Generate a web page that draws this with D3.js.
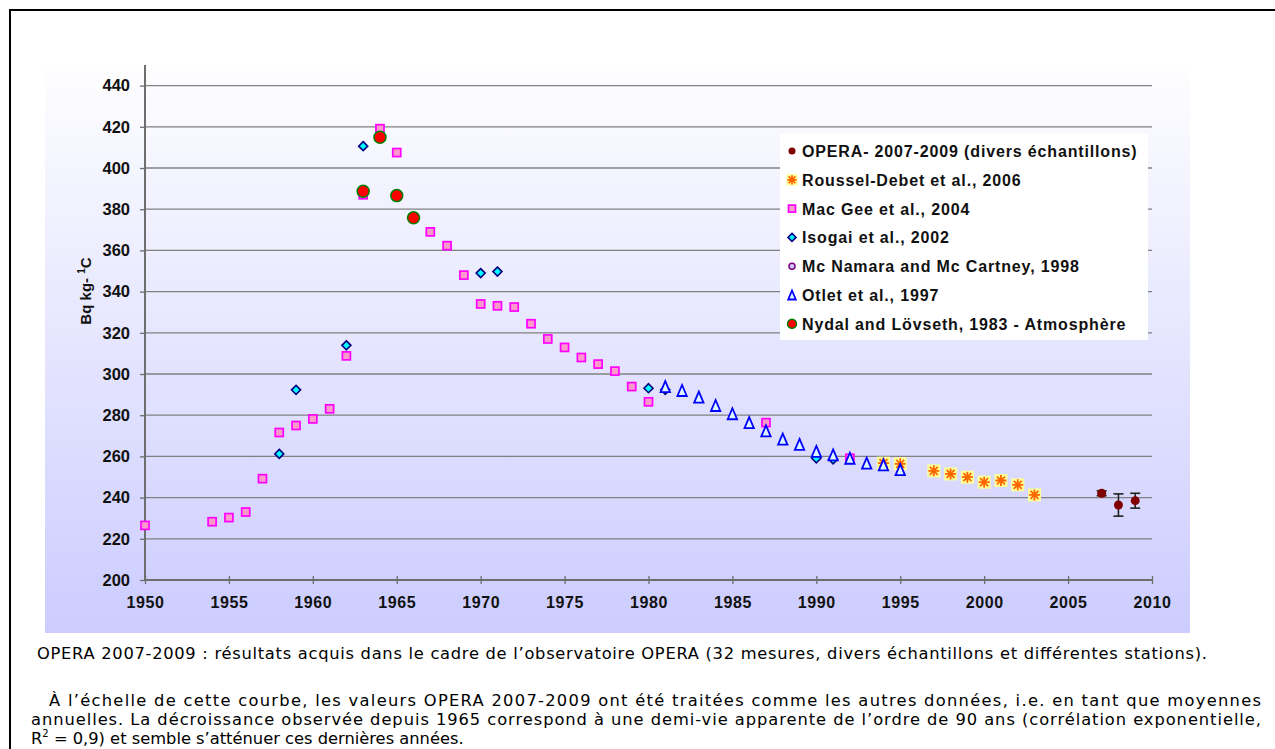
<!DOCTYPE html>
<html>
<head>
<meta charset="utf-8">
<script src="https://cdn.jsdelivr.net/npm/d3@7"></script>
<style>
html,body{margin:0;padding:0;background:#fff;overflow:hidden;}
svg{display:block;}
</style>
</head>
<body>
<svg id="chart" width="1275" height="749"></svg>
<script>
// ---------- DATA ----------
const xTicks = [1950,1955,1960,1965,1970,1975,1980,1985,1990,1995,2000,2005,2010];
const yTicks = [200,220,240,260,280,300,320,340,360,380,400,420,440];

const operaYears = [2007,2008,2009];
const operaVals  = [242.1,236.4,238.5];
const operaErr   = [1.2,5.4,3.6];

const rousselYears = [1994,1995,1997,1998,1999,2000,2001,2002,2003];
const rousselVals  = [256.7,256.4,253.0,251.5,249.9,247.5,248.3,246.2,241.3];

const macGeeYears = [1950,1954,1955,1956,1957,1958,1959,1960,1961,1962,1963,1964,1965,1967,1968,1969,1970,1971,1972,1973,1974,1975,1976,1977,1978,1979,1980,1987,1992];
const macGeeVals  = [226.5,228.3,230.3,233.0,249.2,271.6,275.0,278.2,283.1,308.8,387.0,419.1,407.5,369.0,362.3,348.0,334.0,333.1,332.5,324.4,317.0,312.9,308.0,304.8,301.4,293.9,286.5,276.4,259.1];

const isogaiYears = [1958,1959,1962,1963,1970,1971,1980,1981,1990,1991];
const isogaiVals  = [261.2,292.3,313.9,410.6,349.0,349.7,293.1,292.3,259.1,258.6];

const mcNamaraYears = [];
const mcNamaraVals  = [];

const otletYears = [1981,1982,1983,1984,1985,1986,1987,1988,1989,1990,1991,1992,1993,1994,1995];
const otletVals  = [293.9,292.0,288.8,284.7,280.7,276.4,272.4,268.4,265.8,262.4,260.7,259.1,256.7,255.9,253.6];

const nydalYears = [1963,1964,1965,1966];
const nydalVals  = [388.7,414.9,386.6,375.8];

const legendLabels = [
  "OPERA- 2007-2009 (divers échantillons)",
  "Roussel-Debet et al., 2006",
  "Mac Gee et al., 2004",
  "Isogai et al., 2002",
  "Mc Namara and Mc Cartney, 1998",
  "Otlet et al., 1997",
  "Nydal and Lövseth, 1983 - Atmosphère"
];

const captionLine = "OPERA 2007-2009 : résultats acquis dans le cadre de l’observatoire OPERA (32 mesures, divers échantillons et différentes stations).";
const paraLines = [
  "À l’échelle de cette courbe, les valeurs OPERA 2007-2009 ont été traitées comme les autres données, i.e. en tant que moyennes",
  "annuelles. La décroissance observée depuis 1965 correspond à une demi-vie apparente de l’ordre de 90 ans (corrélation exponentielle,"
];
const lastLine = ["R", "2", " = 0,9) et semble s’atténuer ces dernières années."];

// ---------- LAYOUT ----------
const svg = d3.select("#chart");
const X0 = 145, X1 = 1152, Y0 = 580, Y1 = 65;
const x = d3.scaleLinear().domain([1950,2010]).range([X0,X1]);
const y = d3.scaleLinear().domain([200,450]).range([Y0,Y1]);
const AR = "Liberation Sans, Arial, sans-serif";

// outer frame
svg.append("rect").attr("x",10).attr("y",10).attr("width",1300).attr("height",800)
  .attr("fill","none").attr("stroke","#000").attr("stroke-width",2);

// plot background gradient
const defs = svg.append("defs");
const grad = defs.append("linearGradient").attr("id","bg").attr("x1",0).attr("y1",0).attr("x2",0).attr("y2",1);
grad.append("stop").attr("offset","0%").attr("stop-color","#fefeff");
grad.append("stop").attr("offset","100%").attr("stop-color","#ccccff");
svg.append("rect").attr("x",45).attr("y",65).attr("width",1145).attr("height",568).attr("fill","url(#bg)");

// gridlines
svg.append("g").selectAll("line").data(yTicks.filter(d=>d>200)).join("line")
  .attr("x1",X0).attr("x2",X1).attr("y1",d=>y(d)).attr("y2",d=>y(d))
  .attr("stroke","#808080").attr("stroke-width",1.3);

// y axis
const yAxis = svg.append("g").attr("transform",`translate(${X0},0)`)
  .call(d3.axisLeft(y).tickValues(yTicks).tickSize(5).tickPadding(6).tickFormat(d3.format("d")));
yAxis.select(".domain").attr("stroke","#6e6e6e").attr("stroke-width",2).attr("d",`M0,${Y1}V${Y0}`);
yAxis.selectAll(".tick line").attr("stroke","#6e6e6e").attr("stroke-width",1.3);
yAxis.selectAll(".tick text").attr("font-family",AR)
  .attr("font-weight","bold").attr("font-size",16.5).attr("fill","#111").attr("x",-15);

// x axis
const xAxis = svg.append("g").attr("transform",`translate(0,${Y0})`)
  .call(d3.axisBottom(x).tickValues(xTicks).tickSize(4).tickPadding(13).tickFormat(d3.format("d")));
xAxis.select(".domain").attr("stroke","#6e6e6e").attr("stroke-width",2).attr("d",`M${X0},0H${X1}`);
xAxis.selectAll(".tick line").attr("stroke","#6e6e6e").attr("stroke-width",1.3).attr("y1",-4).attr("y2",4);
xAxis.selectAll(".tick text").attr("font-family",AR)
  .attr("font-weight","bold").attr("font-size",16).attr("letter-spacing",0.6).attr("fill","#111");

// y title
const yt = svg.append("text").attr("transform","translate(91,291) rotate(-90)")
  .attr("text-anchor","middle").attr("font-family",AR)
  .attr("font-weight","bold").attr("font-size",15).attr("fill","#111");
yt.append("tspan").text("Bq kg- ");
yt.append("tspan").attr("font-size",10).attr("dy",-6).text("1");
yt.append("tspan").attr("dy",6).text("C");

// ---------- MARKERS ----------
function zip(a,b){ return a.map((v,i)=>({yr:v,val:b[i]})); }

const drawers = {
  roussel: (g,s)=>{
    const h=s/2;
    g.append("rect").attr("x",-h).attr("y",-h).attr("width",s).attr("height",s).attr("fill","#ffff99");
    const a=h*0.85;
    const p=`M${-a},0H${a}M0,${-a}V${a}M${-a*0.72},${-a*0.72}L${a*0.72},${a*0.72}M${-a*0.72},${a*0.72}L${a*0.72},${-a*0.72}`;
    g.append("path").attr("d",p).attr("stroke","#ff6600").attr("stroke-width",1.8).attr("fill","none");
  },
  macgee: (g,s)=>{ const h=s/2;
    g.append("rect").attr("x",-h).attr("y",-h).attr("width",s).attr("height",s)
     .attr("fill","#ff99cc").attr("stroke","#ff00ff").attr("stroke-width",1.7); },
  isogai: (g,s)=>{ const h=s/2;
    g.append("path").attr("d",`M0,${-h}L${h},0L0,${h}L${-h},0Z`)
     .attr("fill","#00ffff").attr("stroke","#000080").attr("stroke-width",1.6); },
  mcnamara: (g,s)=>{ g.append("circle").attr("r",s/2).attr("fill","#ccccff").attr("stroke","#800080").attr("stroke-width",1.5); },
  otlet: (g,s)=>{ const h=s/2;
    g.append("path").attr("d",`M0,${-h}L${h*0.85},${h}L${-h*0.85},${h}Z`)
     .attr("fill","#ddf6ff").attr("stroke","#0000ff").attr("stroke-width",1.8); },
  nydal: (g,s)=>{ g.append("circle").attr("r",s/2).attr("fill","#ff0000").attr("stroke","#008000").attr("stroke-width",1.5); },
  opera: (g,s)=>{ g.append("circle").attr("r",s/2).attr("fill","#800000"); }
};

const series = [
  {key:"opera",   data:zip(operaYears,operaVals),       size:9,  lsize:7},
  {key:"roussel", data:zip(rousselYears,rousselVals),   size:13, lsize:11},
  {key:"macgee",  data:zip(macGeeYears,macGeeVals),     size:8,  lsize:7},
  {key:"isogai",  data:zip(isogaiYears,isogaiVals),     size:9,  lsize:8},
  {key:"mcnamara",data:zip(mcNamaraYears,mcNamaraVals), size:7,  lsize:6},
  {key:"otlet",   data:zip(otletYears,otletVals),       size:11, lsize:9},
  {key:"nydal",   data:zip(nydalYears,nydalVals),       size:12, lsize:9}
];

// error bars for OPERA
const eb = svg.append("g").attr("stroke","#222").attr("stroke-width",1.6);
operaYears.forEach((yr,i)=>{
  const cx=x(yr), t=y(operaVals[i]+operaErr[i]), b=y(operaVals[i]-operaErr[i]);
  eb.append("line").attr("x1",cx).attr("x2",cx).attr("y1",t).attr("y2",b);
  eb.append("line").attr("x1",cx-5).attr("x2",cx+5).attr("y1",t).attr("y2",t);
  eb.append("line").attr("x1",cx-5).attr("x2",cx+5).attr("y1",b).attr("y2",b);
});

series.forEach(s=>{
  const g = svg.append("g");
  s.data.forEach(d=>{
    const m = g.append("g").attr("transform",`translate(${x(d.yr)},${y(d.val)})`);
    drawers[s.key](m,s.size);
  });
});

// ---------- LEGEND ----------
const lg = svg.append("g");
lg.append("rect").attr("x",780).attr("y",134).attr("width",368).attr("height",206).attr("fill","#fff");
series.forEach((s,i)=>{
  const cy = 151 + i*28.8;
  const m = lg.append("g").attr("transform",`translate(792,${cy})`);
  drawers[s.key](m,s.lsize);
  lg.append("text").attr("x",802).attr("y",cy+6).text(legendLabels[i])
    .attr("font-family",AR).attr("font-weight","bold")
    .attr("font-size",16).attr("letter-spacing",0.85).attr("fill","#111");
});

// ---------- CAPTION ----------
const fnt = "DejaVu Sans, Verdana, sans-serif";
const FS = 16.3;
svg.append("text").attr("x",37).attr("y",659).attr("font-family",fnt).attr("font-size",FS)
  .attr("fill","#000").attr("textLength",1170).attr("lengthAdjust","spacing").text(captionLine);
svg.append("text").attr("x",49).attr("y",706).attr("font-family",fnt).attr("font-size",FS)
  .attr("fill","#000").attr("textLength",1212).attr("lengthAdjust","spacing").text(paraLines[0]);
svg.append("text").attr("x",31).attr("y",725).attr("font-family",fnt).attr("font-size",FS)
  .attr("fill","#000").attr("textLength",1230).attr("lengthAdjust","spacing").text(paraLines[1]);
const l3 = svg.append("text").attr("x",31).attr("y",744).attr("font-family",fnt).attr("font-size",FS).attr("fill","#000");
l3.append("tspan").text(lastLine[0]);
l3.append("tspan").attr("font-size",10).attr("dy",-7).text(lastLine[1]);
l3.append("tspan").attr("dy",7).text(lastLine[2]);
</script>
</body>
</html>
